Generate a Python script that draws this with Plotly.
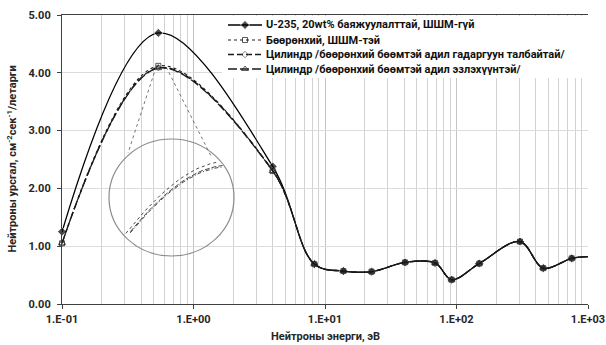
import numpy as np
import plotly.graph_objects as go

# ---------------- data ----------------
energy = [0.1, 0.54, 4.0, 8.3, 13.8, 22.6, 40.6, 68.7, 91.9, 149, 304, 457, 752, 1000]
u235 = [1.25, 4.69, 2.38, 0.69, 0.57, 0.56, 0.72, 0.71, 0.42, 0.70, 1.08, 0.62, 0.79, 0.82]
sphere = [1.05, 4.12, 2.30, 0.69, 0.57, 0.56, 0.72, 0.71, 0.42, 0.70, 1.08, 0.62, 0.79, 0.82]
cyl_area = [1.05, 4.09, 2.31, 0.69, 0.57, 0.56, 0.72, 0.71, 0.42, 0.70, 1.08, 0.62, 0.79, 0.82]
cyl_vol = [1.05, 4.08, 2.30, 0.69, 0.57, 0.56, 0.72, 0.71, 0.42, 0.70, 1.08, 0.62, 0.79, 0.82]

names = ["U-235, 20wt% баяжуулалттай, ШШМ-гүй",
         "Бөөрөнхий, ШШМ-тэй",
         "Цилиндр /бөөрөнхий бөөмтэй адил гадаргуун талбайтай/",
         "Цилиндр /бөөрөнхий бөөмтэй адил эзлэхүүнтэй/"]
x_ticks = [0.1, 1, 10, 100, 1000]
x_ticktext = ["1.E-01", "1.E+00", "1.E+01", "1.E+02", "1.E+03"]
y_ticks = [0, 1, 2, 3, 4, 5]
x_title = "Нейтроны энерги, эВ"
y_title = "Нейтроны урсгал, см<sup>-2</sup>сек<sup>-1</sup>/летарги"

# ---------------- layout geometry ----------------
W, H = 606, 345
ML, MR, MT, MB = 62, 18, 15, 41
PW, PH = W - ML - MR, H - MT - MB
XR = [-1, 3]
YR = [0, 5]

FONT = "Roboto, 'Noto Sans', sans-serif"
TXT = "#262626"

def px(x):  # pixel x -> paper
    return (x - ML) / PW

def py(y):  # pixel y -> paper
    return (H - MB - y) / PH

fig = go.Figure()

styles = [
    dict(line=dict(color="#000000", width=1.3, dash="solid"),
         marker=dict(symbol="diamond", size=7, color="#000000")),
    dict(line=dict(color="#1a1a1a", width=1.1, dash="dot"),
         marker=dict(symbol="square-open", size=5, color="#1a1a1a", line=dict(width=1))),
    dict(line=dict(color="#1a1a1a", width=1.3, dash="6px,3px"),
         marker=dict(symbol="diamond-open", size=5, color="#555555", line=dict(width=1))),
    dict(line=dict(color="#1a1a1a", width=1.3, dash="9px,3px"),
         marker=dict(symbol="triangle-up-open", size=6, color="#1a1a1a", line=dict(width=1))),
]
series = [u235, sphere, cyl_area, cyl_vol]

for ys, nm, st in zip(series, names, styles):
    mk = dict(st["marker"])
    mk["size"] = [mk["size"]] * (len(energy) - 1) + [0]
    fig.add_trace(go.Scatter(
        x=energy, y=ys, name=nm, mode="lines+markers", showlegend=False,
        line=dict(st["line"], shape="spline", smoothing=1.0),
        marker=mk, xaxis="x", yaxis="y", cliponaxis=False))

# ---------------- magnifier inset ----------------
ex0, ex1 = px(109), px(234)
ey0, ey1 = py(256), py(139)
inset_xr = [np.log10(0.30), np.log10(0.62)]
inset_yr = [3.45, 4.30]

def catmull(lx, y, n=80):
    sx = PW / (XR[1] - XR[0])
    sy = PH / (YR[1] - YR[0])
    P = np.column_stack([np.asarray(lx) * sx, np.asarray(y) * sy])
    P = np.vstack([P[0], P, P[-1]])
    out = []
    t = np.linspace(0, 1, n)[:, None]
    for i in range(1, len(P) - 2):
        p0, p1, p2, p3 = P[i - 1], P[i], P[i + 1], P[i + 2]
        seg = 0.5 * (2 * p1 + (-p0 + p2) * t + (2 * p0 - 5 * p1 + 4 * p2 - p3) * t ** 2
                     + (-p0 + 3 * p1 - 3 * p2 + p3) * t ** 3)
        out.append(seg)
    out = np.vstack(out)
    return out[:, 0] / sx, out[:, 1] / sy

inset_dash = ["dot", "5px,2px", "4px,2px,1px,2px"]
for k in (1, 2, 3):
    lx, yy = catmull(np.log10(energy[:4]), series[k][:4])
    u = (lx - inset_xr[0]) / (inset_xr[1] - inset_xr[0])
    v = (yy - inset_yr[0]) / (inset_yr[1] - inset_yr[0])
    inside = (u - 0.5) ** 2 + (v - 0.5) ** 2 < 0.245
    yy = np.where(inside, yy, np.nan)
    fig.add_trace(go.Scatter(
        x=10 ** lx, y=yy, mode="lines", showlegend=False, hoverinfo="skip",
        line=dict(color="#333333", width=0.9, dash=inset_dash[k - 1]),
        xaxis="x2", yaxis="y2", connectgaps=False))

fig.add_shape(type="circle", xref="paper", yref="paper",
              x0=ex0, x1=ex1, y0=ey0, y1=ey1,
              line=dict(color="#8c8c8c", width=1.2), fillcolor="rgba(0,0,0,0)")

def to_paper(xv, yv):
    return (np.log10(xv) - XR[0]) / (XR[1] - XR[0]), (yv - YR[0]) / (YR[1] - YR[0])

pk_l = to_paper(0.52, 4.1)
pk_r = to_paper(0.62, 4.1)
fig.add_shape(type="line", xref="paper", yref="paper",
              x0=pk_l[0], y0=pk_l[1], x1=px(128), y1=py(153),
              line=dict(color="#555555", width=0.8, dash="dot"))
fig.add_shape(type="line", xref="paper", yref="paper",
              x0=pk_r[0], y0=pk_r[1], x1=px(212), y1=py(158),
              line=dict(color="#555555", width=0.8, dash="dot"))

# ---------------- manual legend (compact rows as in the reference) ----------------
lg_x0, lg_x1 = px(222), 1.0
lg_y0, lg_y1 = py(78), py(MT + 1)
fig.add_trace(go.Scatter(
    x=[0, 1, 1, 0, 0], y=[0, 0, 1, 1, 0], mode="lines", fill="toself",
    fillcolor="white", line=dict(width=0), showlegend=False, hoverinfo="skip",
    xaxis="x3", yaxis="y3"))
row_y = [25, 40, 54.5, 69]
for ry, nm, st in zip(row_y, names, styles):
    mk = dict(st["marker"])
    mk["size"] = [0, mk["size"], 0]
    fy = (py(ry) - lg_y0) / (lg_y1 - lg_y0)
    fx = [(px(v) - lg_x0) / (lg_x1 - lg_x0) for v in (228, 245, 262)]
    fig.add_trace(go.Scatter(
        x=fx, y=[fy] * 3, mode="lines+markers",
        line=st["line"], marker=mk, showlegend=False, hoverinfo="skip",
        xaxis="x3", yaxis="y3", cliponaxis=False))
    fig.add_annotation(x=px(264), y=py(ry), xref="paper", yref="paper",
                       text=nm, showarrow=False, xanchor="left", yanchor="middle",
                       font=dict(family=FONT, size=11, color="#111111", weight="bold"))

axfont = dict(family=FONT, size=11, color=TXT, weight="bold")
# axis titles
fig.add_annotation(x=0.5, y=py(336), xref="paper", yref="paper", text=x_title,
                   showarrow=False, xanchor="center", yanchor="middle", font=axfont)
fig.add_annotation(x=px(12), y=0.5, xref="paper", yref="paper", text=y_title,
                   showarrow=False, xanchor="center", yanchor="middle", textangle=-90,
                   font=axfont)

fig.update_layout(
    width=W, height=H,
    margin=dict(l=ML, r=MR, t=MT, b=MB, autoexpand=False),
    paper_bgcolor="white", plot_bgcolor="rgba(0,0,0,0)",
    font=dict(family=FONT, color=TXT),
    showlegend=False,
    xaxis=dict(type="log", range=XR, tickmode="array", tickvals=x_ticks, ticktext=x_ticktext,
               showgrid=True, gridcolor="#c4c4c4", gridwidth=1,
               minor=dict(dtick="D1", showgrid=True, gridcolor="#d2d2d2", gridwidth=1, ticks=""),
               showline=True, linecolor="#404040", linewidth=1.2, mirror=True,
               ticks="outside", ticklen=4, tickcolor="#404040",
               tickfont=axfont, zeroline=False, ticklabelstandoff=1, automargin=False),
    yaxis=dict(range=YR, tickvals=y_ticks, tickformat=".2f",
               showgrid=True, gridcolor="#dcdcdc", gridwidth=1,
               showline=True, linecolor="#404040", linewidth=1.2,
               ticks="outside", ticklen=4, tickcolor="#404040",
               tickfont=axfont, zeroline=False, ticklabelstandoff=4, automargin=False),
    xaxis2=dict(type="log", range=inset_xr, domain=[ex0, ex1], anchor="y2",
                visible=False, showgrid=False, automargin=False),
    yaxis2=dict(range=inset_yr, domain=[ey0, ey1], anchor="x2",
                visible=False, showgrid=False, automargin=False),
    xaxis3=dict(range=[0, 1], domain=[lg_x0, lg_x1], anchor="y3", visible=False,
                showgrid=False, fixedrange=True, automargin=False),
    yaxis3=dict(range=[0, 1], domain=[lg_y0, lg_y1], anchor="x3", visible=False,
                showgrid=False, fixedrange=True, automargin=False),
)

fig.write_html("out.html")
